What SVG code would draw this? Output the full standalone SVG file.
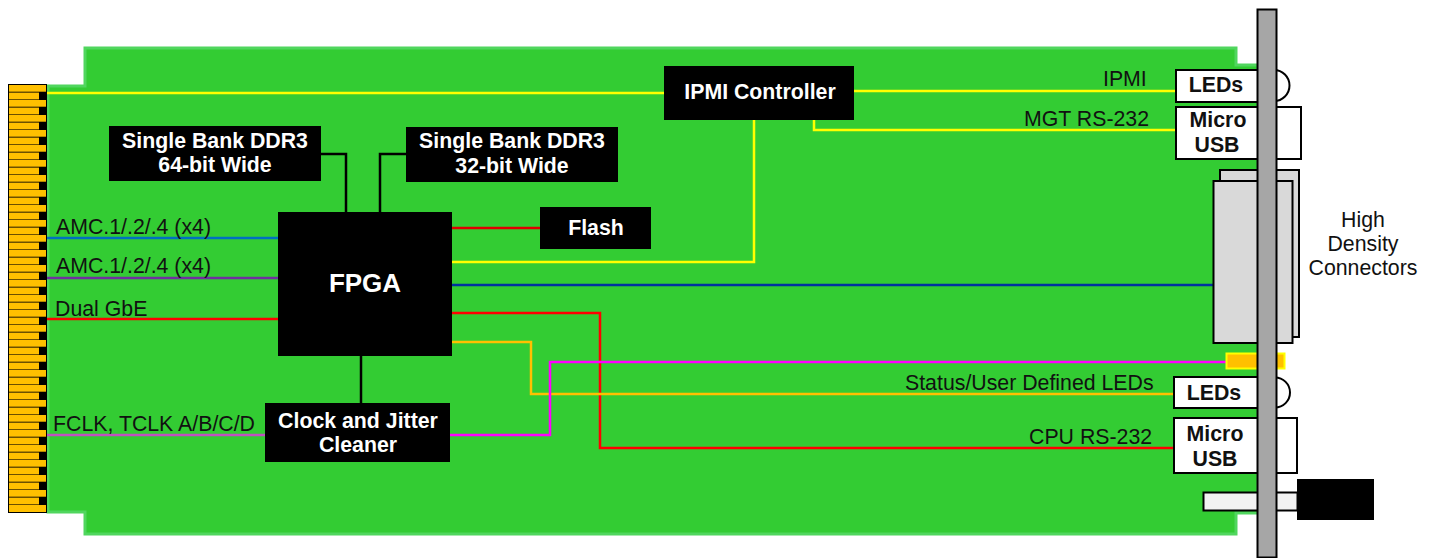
<svg xmlns="http://www.w3.org/2000/svg" width="1434" height="558" viewBox="0 0 1434 558">
<defs>
<style>
text{font-family:"Liberation Sans",Arial,sans-serif;font-size:21.300px;fill:#111}
.b{font-weight:bold;text-anchor:middle}
.w{fill:#fff}
.blk{fill:#000}
.wbox{fill:#fff;stroke:#000;stroke-width:2}
.gr{fill:#d9d9d9;stroke:#000;stroke-width:2}
.c{fill:none;stroke-width:2.5}
.m{text-anchor:middle}
</style>
<g id="fingerPair">
<rect x="9" y="0" width="37" height="6.500" fill="#ffc000"/>
<rect x="9" y="8" width="30" height="6" fill="#ffc000"/>
<rect x="39" y="7" width="7" height="8" fill="#000"/>
</g>
</defs>
<rect width="1434" height="558" fill="#fff"/>
<path id="board" d="M48 86H85V48H1236V65H1258V513H1236V534H85V512H48Z" fill="#33cc33" stroke="#50d65e" stroke-width="3"/>
<g id="edge-fingers">
<rect x="8.500" y="84.500" width="38" height="428" fill="#6b5000" stroke="#000" stroke-width="1"/>
<use href="#fingerPair" y="85"/><use href="#fingerPair" y="100"/><use href="#fingerPair" y="115"/><use href="#fingerPair" y="130"/><use href="#fingerPair" y="145"/><use href="#fingerPair" y="160"/><use href="#fingerPair" y="175"/><use href="#fingerPair" y="190"/><use href="#fingerPair" y="205"/><use href="#fingerPair" y="220"/><use href="#fingerPair" y="235"/><use href="#fingerPair" y="250"/><use href="#fingerPair" y="265"/><use href="#fingerPair" y="280"/><use href="#fingerPair" y="295"/><use href="#fingerPair" y="310"/><use href="#fingerPair" y="325"/><use href="#fingerPair" y="340"/><use href="#fingerPair" y="355"/><use href="#fingerPair" y="370"/><use href="#fingerPair" y="385"/><use href="#fingerPair" y="400"/><use href="#fingerPair" y="415"/><use href="#fingerPair" y="430"/><use href="#fingerPair" y="445"/><use href="#fingerPair" y="460"/><use href="#fingerPair" y="475"/><use href="#fingerPair" y="490"/>
<rect x="9" y="505" width="37" height="7" fill="#ffc000"/>
</g>
<g id="connectors">
<path class="c" stroke="#ffff00" d="M47 93H664"/>
<path class="c" stroke="#ffff00" d="M854 91H1176"/>
<path class="c" stroke="#ffff00" d="M814 120V130H1176"/>
<path class="c" stroke="#ffff00" d="M754 120V262H452"/>
<path class="c" stroke="#000" d="M321 154H346V212"/>
<path class="c" stroke="#000" d="M406 154H380V212"/>
<path class="c" stroke="#000" d="M361 356V403"/>
<path class="c" stroke="#e00000" d="M452 228H540"/>
<path class="c" stroke="#0070c0" d="M47 238H278"/>
<path class="c" stroke="#7030a0" d="M47 278H278"/>
<path class="c" stroke="#ff0000" d="M47 319H278"/>
<path class="c" stroke="#0033a0" d="M452 285H1213"/>
<path class="c" stroke="#ff0000" d="M452 313H600V448H1173"/>
<path class="c" stroke="#ffc000" d="M452 342H531V394H1173"/>
<path class="c" stroke="#ff00ff" d="M450 435H550V362H1226"/>
<path class="c" stroke="#c050c0" d="M47 435H265"/>
</g>
<g id="connector-labels">
<text x="56" y="234">AMC.1/.2/.4 (x4)</text>
<text x="56" y="273">AMC.1/.2/.4 (x4)</text>
<text x="55" y="316">Dual GbE</text>
<text x="53" y="431">FCLK, TCLK A/B/C/D</text>
<text x="1103" y="86">IPMI</text>
<text x="1024" y="126">MGT RS-232</text>
<text x="905" y="390">Status/User Defined LEDs</text>
<text x="1029" y="444">CPU RS-232</text>
</g>
<g id="ipmi"><rect class="blk" x="664" y="66" width="190" height="54"/><text class="b w" x="760" y="99">IPMI Controller</text></g>
<g id="ddr64"><rect class="blk" x="109" y="126" width="212" height="55"/><text class="b w" x="215" y="148">Single Bank DDR3</text><text class="b w" x="215" y="172">64-bit Wide</text></g>
<g id="ddr32"><rect class="blk" x="406" y="127" width="212" height="55"/><text class="b w" x="512" y="148">Single Bank DDR3</text><text class="b w" x="512" y="173">32-bit Wide</text></g>
<g id="flash"><rect class="blk" x="540" y="207" width="111" height="42"/><text class="b w" x="596" y="235">Flash</text></g>
<g id="fpga"><rect class="blk" x="278" y="212" width="174" height="144"/><text class="b w" x="365" y="292" style="font-size:26px">FPGA</text></g>
<g id="clock"><rect class="blk" x="265" y="403" width="185" height="59"/><text class="b w" x="358" y="428">Clock and Jitter</text><text class="b w" x="358" y="452">Cleaner</text></g>
<g id="hd-connectors">
<rect class="gr" x="1220" y="170" width="79" height="167"/>
<rect class="gr" x="1213.500" y="181" width="79" height="162"/>
</g>
<g id="leds-top"><path d="M1274 70A15.500 15.500 0 0 1 1274 101" fill="#fff" stroke="#000" stroke-width="2"/><rect class="wbox" x="1176" y="70" width="84" height="32"/><text class="b" x="1216" y="92">LEDs</text></g>
<g id="usb-top"><rect class="wbox" x="1176" y="107" width="125" height="52"/><text class="b" x="1218" y="127">Micro</text><text class="b" x="1217" y="152">USB</text></g>
<g id="status-led"><rect x="1226.500" y="353.500" width="58" height="15" fill="#ffc000" stroke="#ffff00" stroke-width="2"/></g>
<g id="leds-bottom"><path d="M1275 377.500A15 15 0 0 1 1275 407.500" fill="#fff" stroke="#000" stroke-width="2"/><rect class="wbox" x="1174" y="377" width="86" height="31"/><text class="b" x="1214" y="400">LEDs</text></g>
<g id="usb-bottom"><rect class="wbox" x="1174" y="418" width="123" height="55"/><text class="b" x="1215" y="441">Micro</text><text class="b" x="1215" y="466">USB</text></g>
<g id="latch"><rect x="1203.500" y="492.500" width="94" height="18" fill="#f2f2f2" stroke="#000" stroke-width="2"/><rect class="blk" x="1297" y="479" width="77" height="41"/></g>
<g id="panel"><rect x="1257.500" y="9.500" width="19" height="548" fill="#a6a6a6" stroke="#000" stroke-width="2"/></g>
<g id="hd-label"><text class="m" x="1363" y="227">High</text><text class="m" x="1363" y="251">Density</text><text class="m" x="1363" y="275">Connectors</text></g>
</svg>
